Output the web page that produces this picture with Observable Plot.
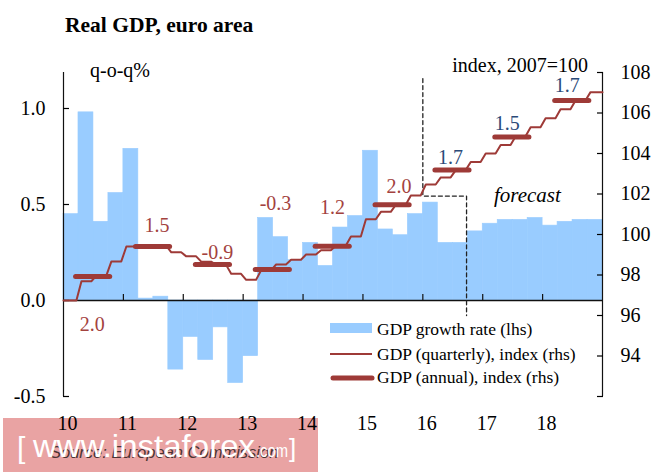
<!DOCTYPE html>
<html><head><meta charset="utf-8">
<script src="https://cdn.jsdelivr.net/npm/d3@7"></script>
<script src="https://cdn.jsdelivr.net/npm/@observablehq/plot@0.6"></script>
<style>
html,body{margin:0;padding:0;background:#fff;}
#wrap{position:relative;width:665px;height:474px;overflow:hidden;font-family:"Liberation Serif","Times New Roman",serif;}
#wm{position:absolute;left:3px;top:418px;width:315px;height:54px;background:#e9a3a3;}
#chart{position:absolute;left:0;top:0;}
#over{position:absolute;left:0;top:0;pointer-events:none;}
</style></head><body>
<div id="wrap"><div id="wm"></div><div id="chart"></div><svg id="over" width="665" height="474"></svg></div>
<script>
// ---- data ----
const years = [2010, 2011, 2012, 2013, 2014, 2015, 2016, 2017, 2018];
const yearLabels = ["10", "11", "12", "13", "14", "15", "16", "17", "18"];
// q-o-q % growth, 2010Q1 .. 2018Q4 (lhs)
const growth = [
  0.45, 0.98, 0.41, 0.56,
  0.79, 0.01, 0.02, -0.36,
  -0.19, -0.31, -0.14, -0.43,
  -0.29, 0.43, 0.33, 0.21,
  0.30, 0.18, 0.38, 0.44,
  0.78, 0.37, 0.34, 0.45,
  0.51, 0.30, 0.30, 0.36,
  0.40, 0.42, 0.42, 0.43,
  0.39, 0.41, 0.42, 0.42
];
// GDP quarterly index, 2007=100 (rhs)
const gdpQuarterly = [
  96.74, 97.69, 97.97, 98.67,
  99.41, 99.42, 99.45, 99.12,
  98.92, 98.66, 98.50, 98.06,
  97.76, 98.23, 98.52, 98.75,
  99.01, 99.22, 99.46, 99.90,
  100.75, 101.12, 101.47, 101.93,
  102.47, 102.82, 103.18, 103.58,
  104.00, 104.42, 104.85, 105.30,
  105.74, 106.18, 106.62, 107.03
];
// GDP annual index (rhs)
const gdpAnnual = [97.93, 99.41, 98.52, 98.27, 99.42, 101.47, 103.19, 104.81, 106.62];
// annual growth labels and their positions (year, rhs index)
const annualGrowth = ["2.0", "1.5", "-0.9", "-0.3", "1.2", "2.0", "1.7", "1.5", "1.7"];
const annualLabelX = [2010.48, 2011.56, 2012.57, 2013.54, 2014.49, 2015.60, 2016.46, 2017.41, 2018.41];
const annualLabelY = [95.56, 100.44, 99.13, 101.52, 101.32, 102.37, 103.82, 105.47, 107.36];
const forecastStart = 2016;
// forecast divider (year, rhs index)
const dividerX = [2016, 2016, 2016.73, 2016.73];
const dividerY = [107.7, 101.9, 101.9, 96.0];
const forecastTextX = 2017.745, forecastTextY = 101.93;
const leftTicks = [-0.5, 0, 0.5, 1.0];
const rightTicks = [92, 94, 96, 98, 100, 102, 104, 106, 108];
const rightLabels = [94, 96, 98, 100, 102, 104, 106, 108];

// ---- scales mapping rhs onto lhs ----
const L0 = -0.5, L1 = 1.1875, R0 = 92, R1 = 108;
const toL = v => L0 + (v - R0) * (L1 - L0) / (R1 - R0);
const fromL = y => R0 + (y - L0) * (R1 - R0) / (L1 - L0);

const barColor = "#99ccff";
const lineColor = "#9e3a37";
const histText = "#a3423e";
const fcText = "#2b4a78";
const serif = "Liberation Serif, Times New Roman, serif";

const quarters = growth.map((g, i) => ({t: years[0] + i * 0.25, g}));
const n = gdpQuarterly.length;
const linePts = [];
gdpQuarterly.forEach((v, i) => {
  const s = years[0] + i * 0.25;
  linePts.push({x: i === 0 ? s : s + 0.05, y: toL(v)});
  linePts.push({x: i === n - 1 ? s + 0.25 : s + 0.25 - 0.035, y: toL(v)});
});
const annual = years.map((y, i) => ({x1: y + 0.21, x2: y + 0.78, y: toL(gdpAnnual[i])}));
const labels = annualGrowth.map((t, i) => ({x: annualLabelX[i], y: toL(annualLabelY[i]), t, fc: years[i] >= forecastStart}));
const divider = dividerX.map((x, i) => ({x, y: toL(dividerY[i])}));

const H = 474, mT = 72, mB = 78;
const pxPerL = (H - mT - mB) / (L1 - L0);

const chart = Plot.plot({
  width: 665, height: H,
  marginLeft: 63, marginRight: 63, marginTop: mT, marginBottom: mB,
  style: {background: "transparent", fontFamily: serif, color: "#000"},
  x: {domain: [years[0], years[years.length - 1] + 1]},
  y: {domain: [L0, L1]},
  marks: [
    Plot.rect(quarters, {x1: "t", x2: d => d.t + 0.25, y1: 0, y2: "g", fill: barColor, stroke: barColor, strokeWidth: 0.6}),
    Plot.ruleY([0], {stroke: "#111", strokeWidth: 1.3}),
    Plot.ruleX(years.slice(1), {x: d => d, y1: 0, y2: 6 / pxPerL, stroke: "#111", strokeWidth: 1.2}),
    Plot.ruleX([years[0]], {stroke: "#111", strokeWidth: 1.2}),
    Plot.ruleX([years[years.length - 1] + 1], {stroke: "#111", strokeWidth: 1.2}),
    Plot.axisY({anchor: "left", ticks: leftTicks, tickSize: 6, dx: 6, tickFormat: () => "", strokeWidth: 1.2}),
    Plot.axisY({anchor: "left", ticks: leftTicks, tickSize: 0, tickPadding: 18, tickFormat: d => d.toFixed(1), fontSize: 20, fontFamily: serif, fill: "#000", label: null}),
    Plot.axisY({anchor: "right", ticks: rightTicks.map(toL), tickSize: 6, dx: -6, tickFormat: () => "", strokeWidth: 1.2}),
    Plot.axisY({anchor: "right", ticks: rightLabels.map(toL), tickSize: 0, tickPadding: 18, tickFormat: d => String(Math.round(fromL(d))), fontSize: 20, fontFamily: serif, fill: "#000", label: null}),
    Plot.axisX({anchor: "bottom", ticks: years, tickSize: 0, tickPadding: 19, dx: 4, tickFormat: d => yearLabels[years.indexOf(d)], fontSize: 20, fontFamily: serif, fill: "#000", label: null}),
    Plot.line(divider, {x: "x", y: "y", stroke: "#222", strokeWidth: 1.3, strokeDasharray: "4,3"}),
    Plot.line(linePts, {x: "x", y: "y", stroke: lineColor, strokeWidth: 2}),
    Plot.ruleY(annual, {x1: "x1", x2: "x2", y: "y", stroke: lineColor, strokeWidth: 5, strokeLinecap: "round"}),
    Plot.text(labels, {x: "x", y: "y", text: "t", fill: d => d.fc ? fcText : histText, fontSize: 20, fontFamily: serif, textAnchor: "middle", lineAnchor: "middle"}),
    Plot.text(["forecast"], {x: forecastTextX, y: toL(forecastTextY), fontSize: 21, fontStyle: "italic", fontFamily: serif, fill: "#000", textAnchor: "middle", lineAnchor: "middle"})
  ]
});
document.getElementById("chart").appendChild(chart);

// ---- titles, legend, source, watermark ----
const over = d3.select("#over");
const sans = "Liberation Sans, Arial, sans-serif";
const addText = (x, y, txt, o = {}) => over.append("text").attr("x", x).attr("y", y)
  .attr("font-family", o.family || serif).attr("font-size", o.size || 20)
  .attr("font-weight", o.weight || "normal").attr("font-style", o.style || "normal")
  .attr("text-anchor", o.anchor || "start").attr("fill", o.fill || "#000").text(txt);

addText(65, 32, "Real GDP, euro area", {size: 21.5, weight: "bold"});
addText(90, 77, "q-o-q%", {size: 20});
addText(588, 72, "index, 2007=100", {size: 20, anchor: "end"});

over.append("rect").attr("x", 330).attr("y", 323).attr("width", 42).attr("height", 10).attr("fill", barColor);
addText(377, 335, "GDP growth rate (lhs)", {size: 17.5});
over.append("line").attr("x1", 330).attr("x2", 372).attr("y1", 354).attr("y2", 354).attr("stroke", lineColor).attr("stroke-width", 2);
addText(377, 360, "GDP (quarterly), index (rhs)", {size: 17.5});
over.append("line").attr("x1", 333).attr("x2", 372).attr("y1", 378).attr("y2", 378).attr("stroke", lineColor).attr("stroke-width", 5).attr("stroke-linecap", "round");
addText(377, 383, "GDP (annual), index (rhs)", {size: 17.5});

addText(50, 458, "Source: European Commission", {size: 16.5, style: "italic", family: sans, fill: "#4a3333"});
const wmFill = "#ffffff";
addText(17, 458, "[", {size: 30, family: sans, fill: wmFill});
addText(33, 457, "www.instaforex", {size: 32, family: sans, fill: wmFill}).attr("textLength", 222).attr("lengthAdjust", "spacingAndGlyphs");
addText(256, 457, ".com", {size: 18, family: sans, fill: wmFill}).attr("textLength", 32).attr("lengthAdjust", "spacingAndGlyphs");
addText(289, 457, "]", {size: 26, family: sans, fill: wmFill});
</script>
</body></html>
